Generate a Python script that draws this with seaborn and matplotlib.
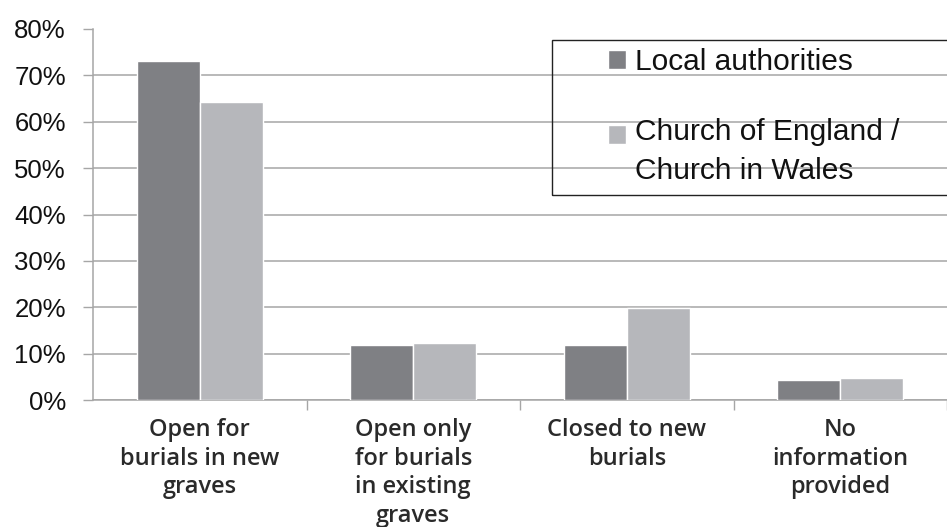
import matplotlib
matplotlib.use("Agg")
import matplotlib.pyplot as plt
import seaborn as sns
import pandas as pd
from matplotlib.ticker import FixedLocator, FuncFormatter
from matplotlib.patches import Rectangle

categories = ["Open for\nburials in new\ngraves",
              "Open only\nfor burials\nin existing\ngraves",
              "Closed to new\nburials",
              "No\ninformation\nprovided"]
series = ["Local authorities", "Church of England /\nChurch in Wales"]
local_authorities = [73.2, 11.8, 11.8, 4.3]
church = [64.2, 12.3, 19.9, 4.8]
y_ticks = [0, 10, 20, 30, 40, 50, 60, 70, 80]

df = pd.DataFrame({
    "category": categories * 2,
    "series": [series[0]] * 4 + [series[1]] * 4,
    "value": local_authorities + church,
})

sns.set_theme(style="white")
plt.rcParams["font.family"] = ["Liberation Sans", "DejaVu Sans"]

fig = plt.figure(figsize=(9.47, 5.27), dpi=100)
ax = fig.add_axes([93 / 947, 1 - 400 / 527, 1 - 93 / 947, (400 - 29) / 527])

sns.barplot(data=df, x="category", y="value", hue="series", order=categories,
            hue_order=series, palette=["#7f8084", "#b6b7bb"], width=0.59,
            saturation=1, ax=ax, zorder=3)

ax.set_ylim(0, 80)
ax.set_xlim(-0.5, 3.5)
ax.yaxis.set_major_locator(FixedLocator(y_ticks))
ax.yaxis.set_major_formatter(FuncFormatter(lambda v, p: f"{v:.0f}%"))
ax.set_xlabel("")
ax.set_ylabel("")

grid_color = "#a6a6a6"
ax.grid(axis="y", color=grid_color, linewidth=1.1, zorder=0)
ax.set_axisbelow(True)
for t in ax.yaxis.get_major_ticks():
    if t.get_loc() == 80:
        t.gridline.set_visible(False)

for s in ["top", "right"]:
    ax.spines[s].set_visible(False)
for s in ["left", "bottom"]:
    ax.spines[s].set_color(grid_color)
    ax.spines[s].set_linewidth(1.1)

ax.tick_params(axis="y", which="major", left=True, length=7.5, width=1.0,
               color=grid_color, pad=12, labelsize=18.5, labelcolor="#111111")
ax.tick_params(axis="x", which="major", bottom=False, length=0, pad=13)
ax.xaxis.set_minor_locator(FixedLocator([0.5, 1.5, 2.5, 3.5]))
ax.tick_params(axis="x", which="minor", bottom=True, length=7, width=1.0,
               color=grid_color, direction="out")
for lab in ax.get_xticklabels():
    lab.set_fontfamily(["Open Sans", "DejaVu Sans"])
    lab.set_fontsize(17)
    lab.set_fontweight(600)
    lab.set_color("#2a2a2a")
    lab.set_linespacing(1.25)
    lab.set_verticalalignment("top")

handles, labels = ax.get_legend_handles_labels()
leg = ax.legend(handles, labels, loc="upper left",
                bbox_to_anchor=(608 / 947, 1 - 48 / 527),
                bbox_transform=fig.transFigure, frameon=False,
                fontsize=21.5, handlelength=0.6, handleheight=0.6,
                handletextpad=0.3, labelspacing=1.42, borderpad=0,
                borderaxespad=0)
for txt in leg.get_texts():
    txt.set_color("#111111")
    txt.set_linespacing(1.5)
lh = leg.legend_handles[1]
lh.set_y(lh.get_y() + 13)

fig.patches.append(Rectangle((552 / 947, 1 - 195 / 527), 0.5, 155 / 527,
                             transform=fig.transFigure, fill=False,
                             edgecolor="#222222", linewidth=1.0,
                             clip_on=False, zorder=5))

fig.savefig("out.png", dpi=100, facecolor="white")
